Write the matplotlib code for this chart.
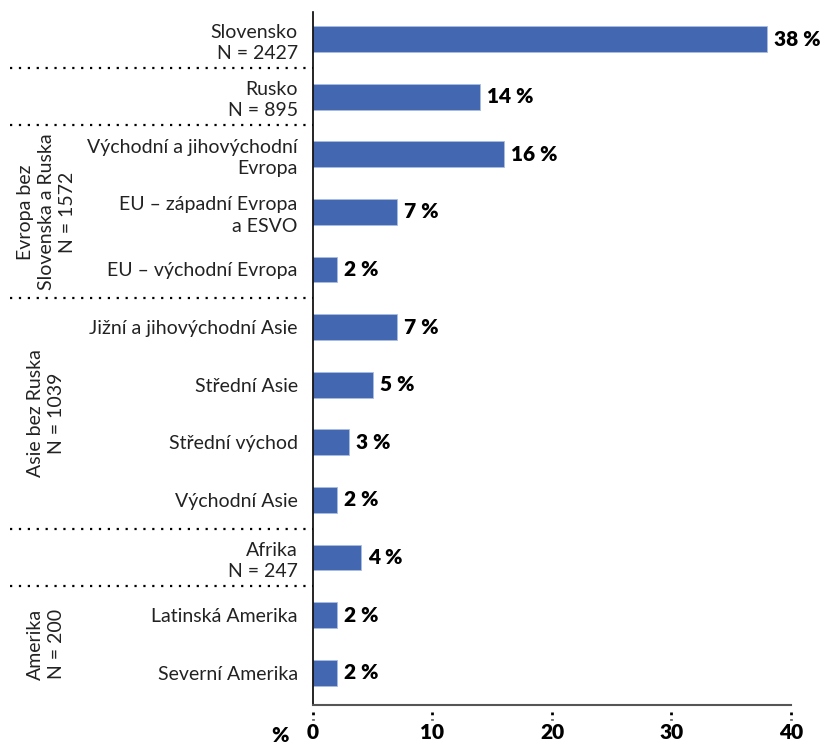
import matplotlib.pyplot as plt
import matplotlib.transforms as mtransforms

plt.rcParams['font.family'] = ['Lato', 'DejaVu Sans']

categories = ['Slovensko\nN = 2427', 'Rusko\nN = 895', 'Východní a jihovýchodní\nEvropa',
              'EU – západní Evropa\na ESVO', 'EU – východní Evropa',
              'Jižní a jihovýchodní Asie', 'Střední Asie', 'Střední východ', 'Východní Asie',
              'Afrika\nN = 247', 'Latinská Amerika', 'Severní Amerika']
values = [38, 14, 16, 7, 2, 7, 5, 3, 2, 4, 2, 2]
groups = [('Evropa bez\nSlovenska a Ruska\nN = 1572', 2, 4),
          ('Asie bez Ruska\nN = 1039', 5, 8),
          ('Amerika\nN = 200', 10, 11)]
separators = [0.5, 1.5, 4.5, 8.5, 9.5]
xticks = [0, 10, 20, 30, 40]

fs = 14
fsb = 15

fig = plt.figure(figsize=(8.23, 7.44), dpi=100)
ax = fig.add_axes([0.3803, 0.0524, 0.5808, 0.9315])

pos = list(range(len(values)))
ax.barh(pos, values, height=0.45, color='#4368b1', edgecolor='#a9bde0', linewidth=0.6)
for y, v in zip(pos, values):
    ax.text(v + 0.6, y, f'{v} %', va='center', ha='left', fontsize=fsb, fontweight='heavy')

ax.set_xlim(0, 40)
ax.set_ylim(11.56, -0.47)
ax.set_yticks(pos)
ax.set_yticklabels(categories, fontsize=fs, color='#222222', linespacing=1.3)
ax.tick_params(axis='y', length=0, pad=11)
ax.set_xticks(xticks)
ax.set_xticklabels([str(t) for t in xticks], fontsize=fsb, fontweight='heavy')
ax.tick_params(axis='x', length=0, pad=13)

for s in ['top', 'right']:
    ax.spines[s].set_visible(False)
ax.spines['left'].set_color('black')
ax.spines['left'].set_linewidth(1.2)
ax.spines['bottom'].set_color('#555555')
ax.spines['bottom'].set_linewidth(1.5)

# dotted tick marks below the axis
bt = mtransforms.blended_transform_factory(ax.transData, ax.transAxes)
for t in xticks:
    ax.plot([t, t], [-0.0101, -0.0215], transform=bt, clip_on=False, color='black',
            linestyle=(0, (1, 1.5)), linewidth=2)
ax.text(-0.07, -0.0435, '%', transform=ax.transAxes, ha='center', va='center',
        fontsize=fsb, fontweight='heavy')

# dotted separators between groups
st = mtransforms.blended_transform_factory(ax.transAxes, ax.transData)
for y in separators:
    ax.plot([-0.634, 0], [y, y], transform=st, clip_on=False, color='black',
            linestyle=(0, (1, 3)), linewidth=1.6)

for label, a, b in groups:
    ax.text(-0.558, (a + b) / 2, label, transform=st, rotation=90, ha='center', va='center',
            fontsize=fs, color='#222222', linespacing=1.3)

fig.savefig('out.png', dpi=100)
